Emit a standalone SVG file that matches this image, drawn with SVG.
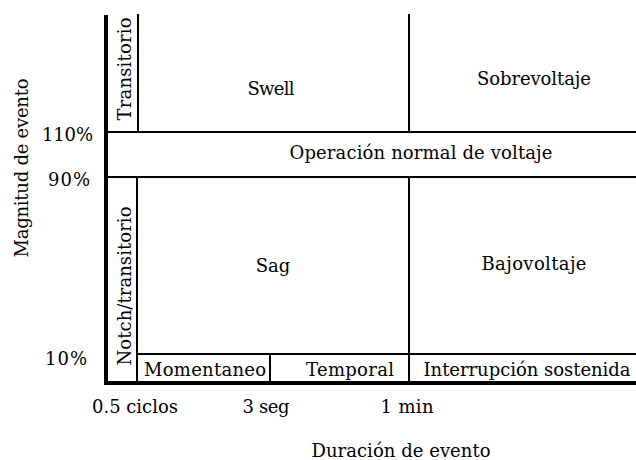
<svg xmlns="http://www.w3.org/2000/svg" width="636" height="460" viewBox="0 0 636 460">
<style>
text{font-family:"DejaVu Serif","Liberation Serif",serif;font-size:18px;fill:#000}
.m{text-anchor:middle}
.ln{stroke:#000;stroke-width:2;fill:none}
.ax{stroke:#000;stroke-width:4;fill:none;stroke-linejoin:miter}
</style>
<rect width="636" height="460" fill="#fff"/>
<g id="grid">
<line class="ln" x1="106" y1="132" x2="636" y2="132"/>
<line class="ln" x1="106" y1="177" x2="636" y2="177"/>
<line class="ln" x1="138" y1="14" x2="138" y2="132"/>
<line class="ln" x1="137" y1="177" x2="137" y2="383"/>
<line class="ln" x1="409" y1="14" x2="409" y2="132"/>
<line class="ln" x1="409" y1="177" x2="409" y2="383"/>
<line class="ln" x1="137" y1="354" x2="636" y2="354"/>
<line class="ln" x1="270" y1="354" x2="270" y2="383"/>
</g>
<g id="axes">
<polyline class="ax" points="106,15 106,383 636,383"/>
</g>
<g id="transitorio"><text class="m" transform="translate(131,69) rotate(-90)" textLength="103" lengthAdjust="spacing">Transitorio</text></g>
<g id="swell"><text class="m" x="271" y="95" textLength="47" lengthAdjust="spacing">Swell</text></g>
<g id="sobrevoltaje"><text class="m" x="534" y="85" textLength="114" lengthAdjust="spacing">Sobrevoltaje</text></g>
<g id="normal"><text class="m" x="421" y="159" textLength="263" lengthAdjust="spacing">Operación normal de voltaje</text></g>
<g id="notch"><text class="m" transform="translate(131,286) rotate(-90)" textLength="159" lengthAdjust="spacing">Notch/transitorio</text></g>
<g id="sag"><text class="m" x="273" y="272">Sag</text></g>
<g id="bajovoltaje"><text class="m" x="534" y="270" textLength="105" lengthAdjust="spacing">Bajovoltaje</text></g>
<g id="momentaneo"><text class="m" x="205" y="376" textLength="122" lengthAdjust="spacing">Momentaneo</text></g>
<g id="temporal"><text class="m" x="350" y="376" textLength="88" lengthAdjust="spacing">Temporal</text></g>
<g id="interrupcion"><text class="m" x="527" y="376" textLength="207" lengthAdjust="spacing">Interrupción sostenida</text></g>
<g id="labels">
<text x="42" y="141" textLength="51" lengthAdjust="spacing">110%</text>
<text x="48" y="186" textLength="42" lengthAdjust="spacing">90%</text>
<text x="45" y="365" textLength="42" lengthAdjust="spacing">10%</text>
<text x="92" y="413" textLength="86" lengthAdjust="spacing">0.5 ciclos</text>
<text class="m" x="266" y="413" textLength="47" lengthAdjust="spacing">3 seg</text>
<text class="m" x="407" y="413" textLength="53" lengthAdjust="spacing">1 min</text>
<text class="m" x="401" y="457" textLength="179" lengthAdjust="spacing">Duración de evento</text>
<text class="m" transform="translate(28,168) rotate(-90)" textLength="179" lengthAdjust="spacing">Magnitud de evento</text>
</g>
</svg>
